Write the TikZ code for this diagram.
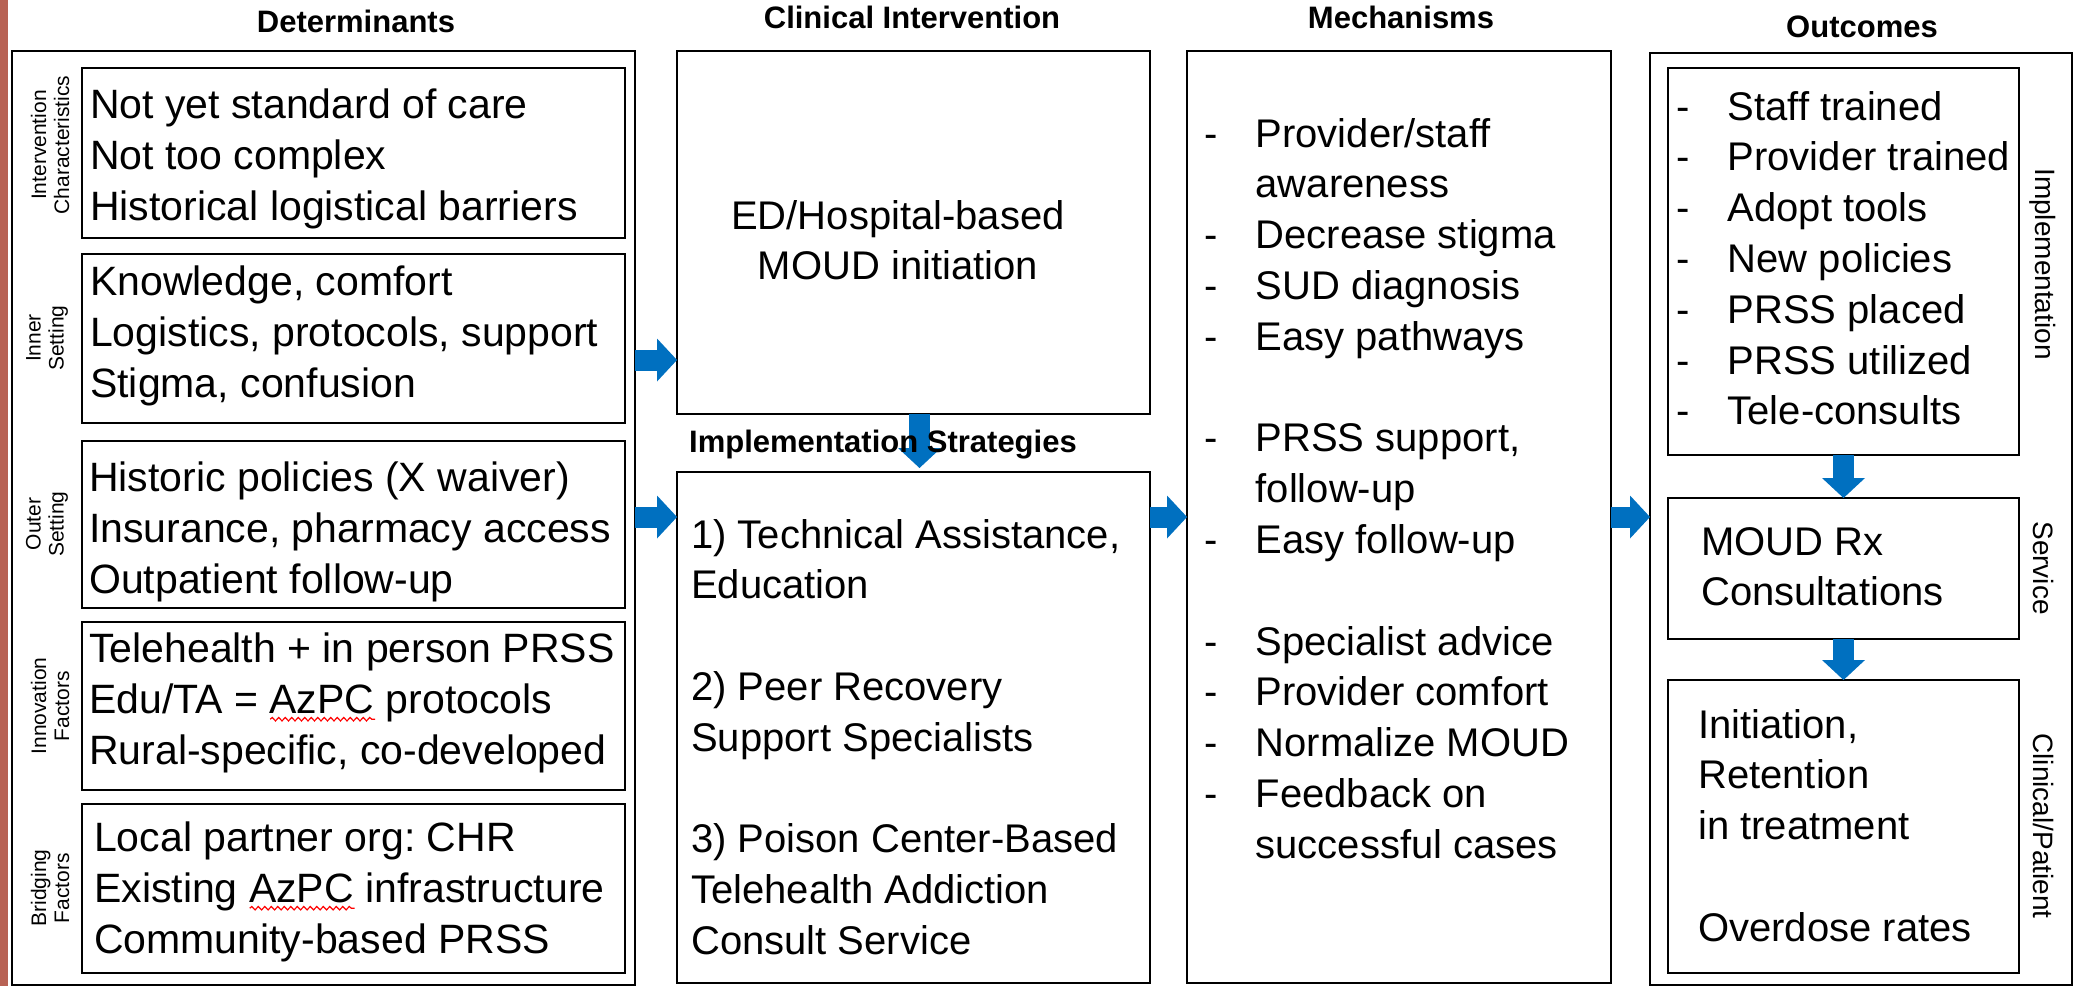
\documentclass[tikz,border=0pt]{standalone}
\usepackage{fontspec}
\setmainfont{Liberation Sans}
\usepackage{tikz}
\usetikzlibrary{positioning, arrows.meta, decorations.pathmorphing}
\frenchspacing

\definecolor{arrowblue}{RGB}{0,112,192}
\definecolor{edgered}{RGB}{184,98,84}

\newcommand{\bodytext}{\fontsize{40}{50.8}\selectfont}
\newcommand{\detertext}{\fontsize{41}{51.2}\selectfont}
\newcommand{\headtext}{\fontsize{31}{36}\selectfont\bfseries}
\newcommand{\sidetext}{\fontsize{21}{23}\selectfont}
\newcommand{\tiertext}{\fontsize{28}{32}\selectfont}
\newcommand{\lines}[1]{\begin{tabular}[t]{@{}l@{}}#1\end{tabular}}
\newcommand{\dashlines}[1]{\begin{tabular}[t]{@{}p{51.5pt}@{}l@{}}#1\end{tabular}}
\newsavebox{\spellbox}
\newcommand{\spellmark}[1]{\sbox{\spellbox}{#1}\rlap{\raisebox{-6pt}{\tikz[baseline=0pt]\draw[red, line width=1.2pt, decorate, decoration={snake, amplitude=1.7pt, segment length=6.5pt}] (0pt,0pt) -- (\wd\spellbox,0pt);}}\usebox{\spellbox}}

\tikzstyle{panel} = [rectangle, draw=black, line width=2.6pt, inner sep=0pt, outer sep=0pt, anchor=north west]
\tikzstyle{heading} = [font=\headtext, anchor=base, inner sep=0pt]
\tikzstyle{sidelabel} = [font=\sidetext, rotate=90, align=center, inner sep=0pt]
\tikzstyle{tier} = [font=\tiertext, rotate=-90, inner sep=0pt]
\tikzstyle{bodybox} = [font=\bodytext, anchor=base west, inner sep=0pt]
\tikzstyle{blockarrow} = [draw=arrowblue, line width=21pt, -{Triangle[width=43pt, length=20pt, line width=0pt, fill=arrowblue]}]

\begin{document}
\begin{tikzpicture}[x=1pt, y=-1pt]
        \useasboundingbox (0,0) rectangle (2074,986);
        \fill[edgered] (0,0) rectangle (8,986);

        \node[heading]                                                   (deter title)   at (356,32)   {Determinants};
        \node[heading]                                                   (clin title)    at (912,28)   {Clinical Intervention};
        \node[heading]                                                   (mech title)    at (1401,28)  {Mechanisms};
        \node[heading]                                                   (outc title)    at (1862,37)  {Outcomes};

        \node[panel, minimum width=623pt, minimum height=934pt]                            (determinants)  at (12,51)    {};
        \node[panel, minimum width=543pt, minimum height=170pt]                            (int char)      at (82,68)    {};
        \node[panel, minimum width=543pt, minimum height=169pt, below=16pt of int char]    (inner)         {};
        \node[panel, minimum width=543pt, minimum height=167pt, below=18pt of inner]       (outer)         {};
        \node[panel, minimum width=543pt, minimum height=168pt, below=14pt of outer]       (innovation)    {};
        \node[panel, minimum width=543pt, minimum height=169pt, below=14pt of innovation]  (bridging)      {};

        \node[panel, minimum width=473pt, minimum height=363pt]                            (clinical)      at (677,51)   {};
        \node[panel, minimum width=473pt, minimum height=511pt, below=58pt of clinical]    (strategies)    {};
        \node[panel, minimum width=424pt, minimum height=932pt]                            (mechanisms)    at (1187,51)  {};
        \node[panel, minimum width=422pt, minimum height=932pt]                            (outcomes)      at (1650,53)  {};
        \node[panel, minimum width=351pt, minimum height=387pt]                            (implementation) at (1668,68) {};
        \node[panel, minimum width=351pt, minimum height=141pt, below=43pt of implementation] (service)    {};
        \node[panel, minimum width=351pt, minimum height=293pt, below=41pt of service]     (clinical patient) {};

        \node[sidelabel]                                                 (int char label)   at (50,145)  {Intervention\\Characteristics};
        \node[sidelabel]                                                 (inner label)      at (47,338)  {Inner\\Setting};
        \node[sidelabel]                                                 (outer label)      at (47,524)  {Outer\\Setting};
        \node[sidelabel]                                                 (innovation label) at (50,706)  {Innovation\\Factors};
        \node[sidelabel]                                                 (bridging label)   at (50,888)  {Bridging\\Factors};

        \node[bodybox, font=\detertext]  (int char text)   at (90,118)  {\lines{Not yet standard of care\\Not too complex\\Historical logistical barriers}};
        \node[bodybox, font=\detertext]  (inner text)      at (90,295)  {\lines{Knowledge, comfort\\Logistics, protocols, support\\Stigma, confusion}};
        \node[bodybox, font=\detertext]  (outer text)      at (89,491)  {\lines{Historic policies (X waiver)\\Insurance, pharmacy access\\Outpatient follow-up}};
        \node[bodybox, font=\detertext]  (innovation text) at (89,662)  {\lines{Telehealth + in person PRSS\\Edu/TA = \spellmark{AzPC} protocols\\Rural-specific, co-developed}};
        \node[bodybox, font=\detertext]  (bridging text)   at (94,851)  {\lines{Local partner org: CHR\\Existing \spellmark{AzPC} infrastructure\\Community-based PRSS}};

        \node[font=\bodytext, anchor=base, inner sep=0pt] (clinical text) at (898,229) {\begin{tabular}[t]{@{}c@{}}ED/Hospital-based\\MOUD initiation\end{tabular}};
        \node[bodybox]                   (strategies text) at (691,548) {\lines{1) Technical Assistance,\\Education\\ \\2) Peer Recovery\\Support Specialists\\ \\3) Poison Center-Based\\Telehealth Addiction\\Consult Service}};
        \node[bodybox]                   (mechanisms text) at (1204,147) {\dashlines{-&Provider/staff\\&awareness\\-&Decrease stigma\\-&SUD diagnosis\\-&Easy pathways\\ \\-&PRSS support,\\&follow-up\\-&Easy follow-up\\ \\-&Specialist advice\\-&Provider comfort\\-&Normalize MOUD\\-&Feedback on\\&successful cases}};
        \node[bodybox]                   (implementation text) at (1676,120) {\dashlines{-&Staff trained\\-&Provider trained\\-&Adopt tools\\-&New policies\\-&PRSS placed\\-&PRSS utilized\\-&Tele-consults}};
        \node[bodybox]                   (service text)    at (1701,555) {\lines{MOUD Rx\\Consultations}};
        \node[bodybox]                   (clinical patient text) at (1698,738) {\lines{Initiation,\\Retention\\in treatment\\ \\Overdose rates}};

        \node[tier]                                                      (implementation label)   at (2043,264)  {Implementation};
        \node[tier]                                                      (service label)          at (2043,568)  {Service};
        \node[tier]                                                      (clinical patient label) at (2043,826)  {Clinical/Patient};

        \coordinate (upper feed) at (0,360);
        \coordinate (lower feed) at (0,517);

        \draw[blockarrow] (determinants.east |- upper feed) -- (clinical.west |- upper feed);
        \draw[blockarrow] (determinants.east |- lower feed) -- (strategies.west |- lower feed);
        \draw[blockarrow] (strategies.east |- lower feed)   -- (mechanisms.west |- lower feed);
        \draw[blockarrow] (mechanisms.east |- lower feed)   -- (outcomes.west |- lower feed);
        \draw[blockarrow] ([xshift=6pt]clinical.south)      -- ([xshift=6pt, yshift=4pt]strategies.north);
        \draw[blockarrow] (implementation.south)            -- (service.north);
        \draw[blockarrow] (service.south)                   -- (clinical patient.north);

        \node[font=\headtext, anchor=base west, inner sep=0pt] (strat title) at (689,452) {Implementation Strategies};
    \end{tikzpicture}
\end{document}
